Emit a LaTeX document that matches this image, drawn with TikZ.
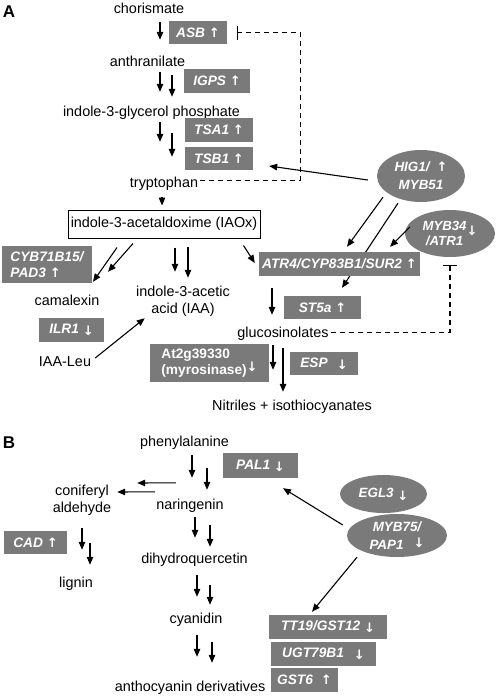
\documentclass[tikz,border=0pt]{standalone}
\usepackage{fontspec}
\setmainfont{Liberation Sans}
\newfontfamily\arrowfont{DejaVu Sans}
\usetikzlibrary{arrows.meta,shapes.geometric,backgrounds}
\definecolor{genegray}{RGB}{122,122,122}
\newcommand{\upreg}{{\arrowfont\bfseries\upshape\fontsize{13}{13}\selectfont ↑}}
\newcommand{\dnreg}{{\arrowfont\bfseries\upshape\fontsize{13}{13}\selectfont ↓}}

\begin{document}
\begin{tikzpicture}[x=1pt, y=-1pt,
        metabolite/.style={inner sep=0pt, text height=10.5pt, text depth=3pt, anchor=base, font=\fontsize{14.4}{17}\selectfont},
        metabolite2/.style={inner sep=0pt, align=center, font=\fontsize{14.4}{17}\selectfont},
        gene/.style={rectangle, fill=genegray, text=white, inner sep=0pt, minimum height=24pt, font=\fontsize{13.7}{16}\selectfont\bfseries\itshape},
        regulator/.style={ellipse, fill=genegray, text=white, inner sep=0pt, align=center, font=\fontsize{13.4}{18}\selectfont\bfseries\itshape},
        panel/.style={inner sep=0pt, anchor=base, font=\fontsize{17}{17}\selectfont\bfseries},
        flow/.style={-{Triangle[length=8pt,width=6.5pt]}, line width=1.1pt},
        inhibit/.style={line width=1.1pt, dash pattern=on 5pt off 4pt, -{Bar[width=14pt,line width=1.2pt]}}
    ]
        \useasboundingbox (0,0) rectangle (498,696);

        % Panel A: metabolites
        \node[panel] (labA) at (9,17) {A};
        \node[metabolite] (chor) at (149,13) {chorismate};
        \node[metabolite] (anth) at (147.5,66) {anthranilate};
        \node[metabolite] (iglyc) at (151.5,116) {indole-3-glycerol phosphate};
        \node[metabolite] (trp) at (164,187) {tryptophan};
        \node[draw, line width=1pt, inner sep=0pt, minimum width=192pt, minimum height=28pt, font=\fontsize{14.4}{17}\selectfont] (IAOx) at (164,224) {indole-3-acetaldoxime (IAOx)};
        \node[metabolite] (cam) at (67,305) {camalexin};
        \node[metabolite2] (IAA) at (183,301) {indole-3-acetic\\acid (IAA)};
        \node[metabolite] (IAALeu) at (65,366) {IAA-Leu};
        \node[metabolite] (gluc) at (283,337) {glucosinolates};
        \node[metabolite] (nitr) at (292,410) {Nitriles + isothiocyanates};

        % Panel A: genes
        \node[gene, minimum width=58pt, minimum height=23pt] (ASB) at (198,32.5) {ASB \upreg};
        \node[gene, minimum width=66pt] (IGPS) at (217,81) {IGPS \upreg};
        \node[gene, minimum width=68pt] (TSA1) at (219,130) {TSA1 \upreg};
        \node[gene, minimum width=68pt, minimum height=23pt] (TSB1) at (219,158.5) {TSB1 \upreg};
        \node[gene, minimum width=90pt, minimum height=37pt, align=left] (CYB) at (47,264.5) {CYB71B15/\\PAD3 \upreg};
        \node[gene, minimum width=161pt] (ATR4) at (339.5,264) {ATR4/CYP83B1/SUR2 \upreg};
        \node[gene, minimum width=77pt, minimum height=23pt] (ST5a) at (322.5,307.5) {ST5a \upreg};
        \node[gene, minimum width=65pt] (ILR1) at (71.5,330) {ILR1 \raisebox{-2pt}{\dnreg}};
        \node[gene, minimum width=119pt, minimum height=38pt, align=left, font=\fontsize{13.7}{16}\selectfont\bfseries] (myro) at (209.5,363) {At2g39330\\(myrosinase)\raisebox{3pt}{\dnreg}};
        \node[gene, minimum width=68pt, minimum height=23pt] (ESP) at (324,363.5) {ESP\hspace{9pt}\raisebox{-2pt}{\dnreg}};

        % Panel A: regulators
        \node[regulator, minimum width=88pt, minimum height=52pt] (HIG1) at (421,176) {HIG1/\hspace{7pt}\upreg\\MYB51};
        \node[regulator, minimum width=90pt, minimum height=47pt, font=\fontsize{13.2}{13}\selectfont\bfseries\itshape] (MYB34) at (450,233.5) {MYB34\raisebox{-5pt}{\dnreg}\\/ATR1\hphantom{\dnreg}};

        % Panel A: connections
        \draw[flow] ([xshift=11pt,yshift=-6pt]chor.south) -- ([xshift=12.5pt,yshift=15.5pt]anth.north);
        \draw[flow] ([xshift=12.5pt,yshift=-3pt]anth.south) -- ([xshift=8.5pt,yshift=13.5pt]iglyc.north);
        \draw[flow] ([xshift=24.5pt,yshift=-6pt]anth.south) -- ([xshift=20.5pt,yshift=8.5pt]iglyc.north);
        \draw[flow] ([xshift=8.5pt,yshift=-3pt]iglyc.south) -- ([xshift=-4pt,yshift=34.5pt]trp.north);
        \draw[flow] ([xshift=20.5pt,yshift=-14pt]iglyc.south) -- ([xshift=8pt,yshift=19.5pt]trp.north);
        \draw[flow] ([xshift=-2pt,yshift=-7pt]trp.south) -- ([xshift=-2pt,yshift=4pt]IAOx.north);
        \draw[flow] ([xshift=-47pt,yshift=-9pt]IAOx.south) -- ([xshift=26pt,yshift=12.5pt]cam.north);
        \draw[flow] ([xshift=-31pt,yshift=-5pt]IAOx.south) -- ([xshift=41pt,yshift=22.5pt]cam.north);
        \draw[flow] ([xshift=11pt,yshift=-9pt]IAOx.south) -- ([xshift=-8pt,yshift=13.8pt]IAA.north);
        \draw[flow] ([xshift=24pt,yshift=-8pt]IAOx.south) -- ([xshift=5pt,yshift=7.8pt]IAA.north);
        \draw[flow] ([xshift=-17pt,yshift=-7pt]IAOx.south east) -- ([xshift=-4pt,yshift=1pt]ATR4.west);
        \draw[flow] ([xshift=4pt,yshift=4.25pt]IAALeu.east) -- ([xshift=8.8pt,yshift=-1.8pt]IAA.south west);
        \draw[flow] ([xshift=-9pt,yshift=-4pt]HIG1.west) -- ([xshift=16pt,yshift=-7.5pt]TSB1.east);
        \draw[flow] ([xshift=-38pt,yshift=5pt]HIG1.south) -- ([xshift=7.5pt,yshift=5pt]ATR4.north);
        \begin{pgfonlayer}{background}
            \draw[flow] ([xshift=-23pt,yshift=-1pt]HIG1.south) -- ([xshift=19.5pt,yshift=8pt]ST5a.north);
        \end{pgfonlayer}
        \draw[flow] ([xshift=5pt,yshift=6.5pt]MYB34.west) -- ([xshift=50.5pt,yshift=5pt]ATR4.north);
        \draw[flow] ([xshift=-67.5pt,yshift=-12pt]ATR4.south) -- ([xshift=-11pt,yshift=11.5pt]gluc.north);
        \draw[flow] ([xshift=-10pt,yshift=-5pt]gluc.south) -- ([xshift=-19pt,yshift=29.5pt]nitr.north);
        \draw[flow] ([yshift=-8pt]gluc.south) -- ([xshift=-9pt,yshift=7.5pt]nitr.north);

        % Feedback inhibition
        \draw[inhibit] ([xshift=2pt,yshift=3pt]trp.east) -| ([xshift=73pt]ASB.east) -- ([xshift=10pt]ASB.east);
        \draw[inhibit] ([xshift=2pt,yshift=1pt]gluc.east) -| ([yshift=-8pt]MYB34.south);

        % Panel B: metabolites
        \node[panel] (labB) at (9,448) {B};
        \node[metabolite] (phe) at (184.5,446) {phenylalanine};
        \node[metabolite2] (conif) at (82,500) {coniferyl\\aldehyde};
        \node[metabolite] (nar) at (190,509) {naringenin};
        \node[metabolite] (dhq) at (194.5,563) {dihydroquercetin};
        \node[metabolite] (lignin) at (76,587) {lignin};
        \node[metabolite] (cya) at (196,623) {cyanidin};
        \node[metabolite] (antho) at (190,691) {anthocyanin derivatives};

        % Panel B: genes and regulators
        \node[gene, minimum width=75pt, minimum height=25pt] (PAL1) at (260.5,465.5) {PAL1 \raisebox{-2pt}{\dnreg}};
        \node[gene, minimum width=63pt, minimum height=23pt] (CAD) at (35.5,542.5) {CAD \upreg};
        \node[regulator, minimum width=87pt, minimum height=38pt] (EGL3) at (383.5,494) {EGL3 \raisebox{-3pt}{\dnreg}};
        \node[regulator, minimum width=100pt, minimum height=43pt] (MYB75) at (397,535.5) {MYB75/\\PAP1\hspace{10pt}\raisebox{2pt}{\dnreg}};
        \node[gene, minimum width=118pt] (TT19) at (328,627) {TT19/GST12 \raisebox{-2pt}{\dnreg}};
        \node[gene, minimum width=105pt] (UGT) at (323.5,654) {UGT79B1\hspace{10pt}\raisebox{-2pt}{\dnreg}};
        \node[gene, minimum width=67pt] (GST6) at (304.5,680) {GST6\hspace{8pt}\upreg};

        % Panel B: connections
        \draw[flow] ([xshift=7.5pt,yshift=-6pt]phe.south) -- ([xshift=2pt,yshift=20.5pt]nar.north);
        \draw[flow] ([xshift=22.5pt,yshift=-19pt]phe.south) -- ([xshift=17pt,yshift=8.5pt]nar.north);
        \draw[flow] ([xshift=19.6pt,yshift=15.5pt]nar.north west) -- ([xshift=25.8pt,yshift=17pt]conif.east);
        \draw[flow] ([xshift=-1.4pt,yshift=6.5pt]nar.north west) -- ([xshift=5.8pt,yshift=8pt]conif.east);
        \draw[flow] ([xshift=5pt,yshift=-5pt]nar.south) -- ([xshift=0.5pt,yshift=14.5pt]dhq.north);
        \draw[flow] ([xshift=20pt,yshift=-13pt]nar.south) -- ([xshift=15.5pt,yshift=5.5pt]dhq.north);
        \draw[flow] ([yshift=-12.8pt]conif.south) -- ([xshift=6pt,yshift=26.5pt]lignin.north);
        \draw[flow] ([xshift=8pt,yshift=-27.8pt]conif.south) -- ([xshift=14pt,yshift=11.5pt]lignin.north);
        \draw[flow] ([xshift=2.5pt,yshift=-9pt]dhq.south) -- ([xshift=1pt,yshift=15.5pt]cya.north);
        \draw[flow] ([xshift=15.5pt,yshift=-19pt]dhq.south) -- ([xshift=14pt,yshift=7.5pt]cya.north);
        \draw[flow] ([xshift=1pt,yshift=-9pt]cya.south) -- ([xshift=7pt,yshift=23.5pt]antho.north);
        \draw[flow] ([xshift=16pt,yshift=-16pt]cya.south) -- ([xshift=22pt,yshift=17.5pt]antho.north);
        \draw[flow] ([xshift=-4pt,yshift=10.5pt]MYB75.west) -- ([xshift=22.5pt,yshift=-10pt]PAL1.south);
        \draw[flow] ([xshift=-40pt]MYB75.south) -- ([xshift=-16pt,yshift=3pt]TT19.north);

    \end{tikzpicture}
\end{document}
